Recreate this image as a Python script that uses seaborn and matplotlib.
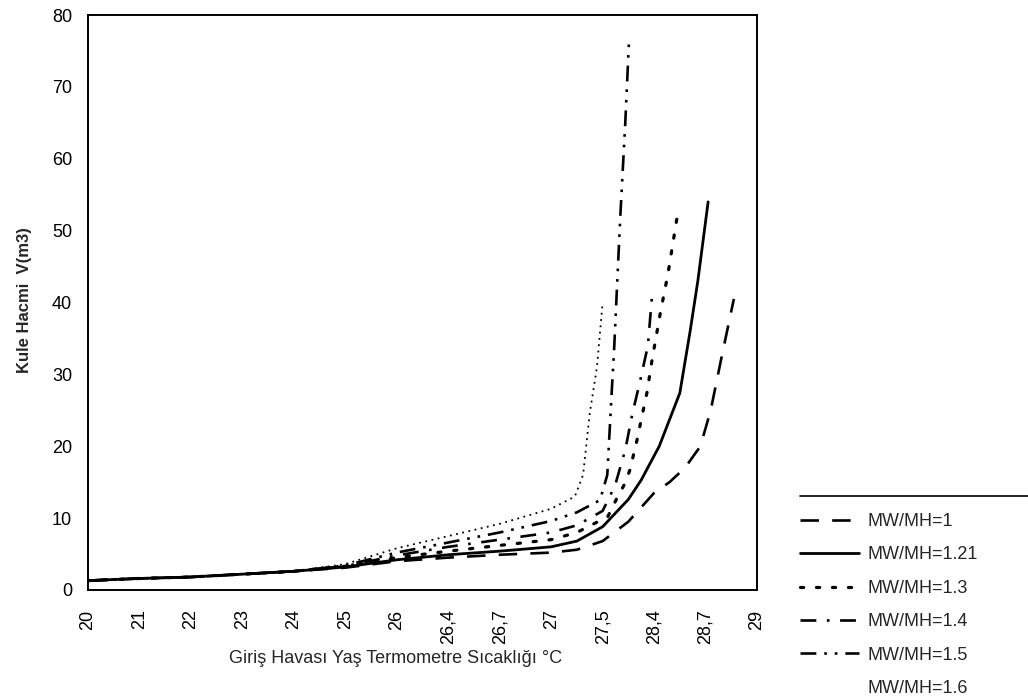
import matplotlib
matplotlib.use("Agg")
import matplotlib.pyplot as plt
from matplotlib.lines import Line2D
import pandas as pd
import seaborn as sns

# category axis (wet bulb temperature of inlet air)
x_labels = ["20", "21", "22", "23", "24", "25", "26", "26,4", "26,7", "27", "27,5", "28,4", "28,7", "29"]

# positions are read along the category axis (0 = "20", 13 = "29")
mw1_pos = [0, 1, 2, 3, 4, 5, 6, 7, 8, 9, 9.5, 10, 10.5, 11, 11.3, 11.6, 11.9, 12.1, 12.3, 12.55]
mw1_val = [1.3, 1.6, 1.8, 2.2, 2.6, 3.1, 4.0, 4.5, 4.9, 5.2, 5.6, 6.8, 9.5, 13.5, 15.0, 17.0, 20.0, 25.0, 32.0, 40.5]

mw121_pos = [0, 1, 2, 3, 4, 5, 6, 7, 8, 9, 9.5, 10, 10.5, 10.75, 11.1, 11.5, 11.7, 11.85, 12.05]
mw121_val = [1.3, 1.6, 1.8, 2.2, 2.6, 3.2, 4.2, 4.9, 5.4, 6.0, 6.8, 8.8, 12.6, 15.3, 20.0, 27.4, 36.0, 43.0, 54.0]

mw13_pos = [0, 1, 2, 3, 4, 5, 6, 7, 8, 9, 9.5, 10.1, 10.28, 10.44, 10.53, 10.67, 10.73, 10.86, 10.96, 11.12, 11.27, 11.45]
mw13_val = [1.3, 1.6, 1.8, 2.2, 2.6, 3.3, 4.5, 5.4, 6.2, 7.0, 8.0, 10.2, 12.8, 14.9, 16.7, 20.9, 23.0, 27.4, 32.0, 38.5, 44.0, 52.0]

mw14_pos = [0, 1, 2, 3, 4, 5, 6, 7, 8, 9, 9.5, 10, 10.24, 10.44, 10.58, 10.72, 10.88, 10.96]
mw14_val = [1.3, 1.6, 1.8, 2.2, 2.6, 3.3, 4.8, 6.0, 7.0, 8.0, 9.0, 11.0, 14.5, 19.5, 24.6, 28.8, 34.0, 41.0]

mw15_pos = [0, 1, 2, 3, 4, 5, 6, 7, 8, 9, 9.5, 9.95, 10.09, 10.18, 10.22, 10.34, 10.44, 10.51]
mw15_val = [1.3, 1.6, 1.8, 2.2, 2.6, 3.4, 5.2, 6.6, 8.0, 9.6, 10.8, 12.5, 16.0, 28.0, 33.0, 51.5, 65.0, 76.0]

mw16_pos = [0, 1, 2, 3, 4, 5, 6, 7, 8, 9, 9.46, 9.62, 9.75, 9.89, 10.0]
mw16_val = [1.3, 1.6, 1.8, 2.2, 2.6, 3.6, 5.8, 7.5, 9.2, 11.3, 13.0, 16.0, 24.6, 31.0, 40.0]

names = ["MW/MH=1", "MW/MH=1.21", "MW/MH=1.3", "MW/MH=1.4", "MW/MH=1.5", "MW/MH=1.6"]
positions = [mw1_pos, mw121_pos, mw13_pos, mw14_pos, mw15_pos, mw16_pos]
values = [mw1_val, mw121_val, mw13_val, mw14_val, mw15_val, mw16_val]

df = pd.concat(
    [pd.DataFrame({"pos": p, "V": v, "seri": n}) for n, p, v in zip(names, positions, values)],
    ignore_index=True,
)

# line look per series
styles = {
    "MW/MH=1": dict(linestyle=(0, (7, 5)), linewidth=1.9),
    "MW/MH=1.21": dict(linestyle="-", linewidth=2.0),
    "MW/MH=1.3": dict(linestyle=(0, (1, 4)), linewidth=2.3, dash_capstyle="round"),
    "MW/MH=1.4": dict(linestyle=(0, (6, 4, 1, 4)), linewidth=1.9),
    "MW/MH=1.5": dict(linestyle=(0, (6, 3, 1, 3, 1, 3)), linewidth=1.9),
    "MW/MH=1.6": dict(linestyle=(0, (1, 2.5)), linewidth=1.3),
}

sns.set_style("white")
plt.rcParams["font.family"] = ["Liberation Sans", "DejaVu Sans"]

fig = plt.figure(figsize=(10.28, 6.99), dpi=100)
ax = fig.add_axes([0.0856, 0.156, 0.6508, 0.8225])

for name in names:
    sns.lineplot(data=df[df["seri"] == name], x="pos", y="V", ax=ax, color="black",
                 label=name, estimator=None, sort=False, legend=False, **styles[name])

ax.set_xlim(0, 13)
ax.set_ylim(0, 80)
ax.set_xticks(range(len(x_labels)))
ax.set_xticklabels(x_labels, rotation=90)
ax.set_yticks(range(0, 81, 10))

for sp in ax.spines.values():
    sp.set_color("black")
    sp.set_linewidth(1.4)

ax.tick_params(axis="y", direction="inout", length=7, width=1.2, labelsize=13, pad=8, colors="black")
ax.tick_params(axis="x", length=0, labelsize=13, pad=14, colors="black")

ax.set_xlabel("Giriş Havası Yaş Termometre Sıcaklığı °C", fontsize=13)
ax.xaxis.set_label_coords(0.459, -0.104)
ax.set_ylabel("Kule Hacmi  V(m3)", fontsize=12, fontweight="bold")
ax.yaxis.set_label_coords(-0.084, 0.504)

handles, labels = ax.get_legend_handles_labels()
leg = fig.legend(handles, labels, loc="upper left", bbox_to_anchor=(0.778, 0.266),
                 frameon=False, fontsize=13, handlelength=3.3, handletextpad=0.45,
                 labelspacing=0.91, borderpad=0, borderaxespad=0)
# the last entry has no visible sample in the original
leg.get_lines()[-1].set_visible(False)

fig.add_artist(Line2D([0.778, 1.0], [0.2904, 0.2904], transform=fig.transFigure,
                      color="black", linewidth=1.2))

fig.savefig("out.png", dpi=100)
